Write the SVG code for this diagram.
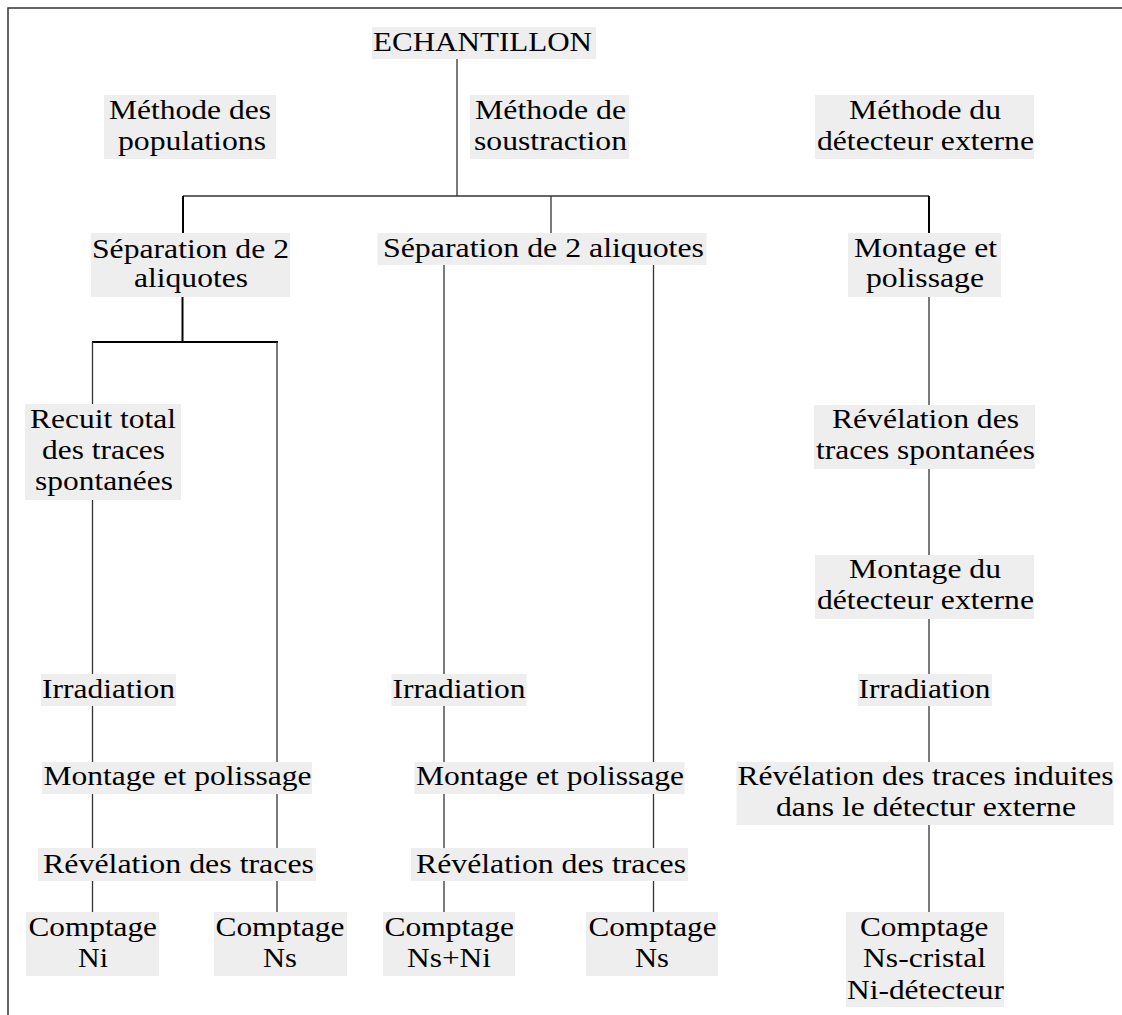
<svg xmlns="http://www.w3.org/2000/svg" width="1122" height="1015" viewBox="0 0 1122 1015">
<style>
.box{fill:#eeeeee;stroke:none}
.t text{font-family:"Liberation Serif","Times New Roman",serif;font-size:28px;fill:#000}
.ln{stroke:#333;stroke-width:1.3;fill:none}
.lb{stroke:#000;stroke-width:2;fill:none}
.frame{stroke:#333;stroke-width:1.5;fill:none}
</style>
<rect width="1122" height="1015" fill="#ffffff"/>
<path class="frame" d="M8,1016 V8 H1123"/>
<g id="connectors">
<line class="ln" x1="457" y1="59" x2="457" y2="196"/>
<line class="ln" x1="183" y1="196" x2="929" y2="196"/>
<line class="lb" x1="183" y1="196" x2="183" y2="233"/>
<line class="ln" x1="551" y1="196" x2="551" y2="233"/>
<line class="lb" x1="929" y1="196" x2="929" y2="233"/>
<line class="lb" x1="182.5" y1="297" x2="182.5" y2="342"/>
<line class="lb" x1="92" y1="342" x2="278" y2="342"/>
<line class="ln" x1="92.5" y1="342" x2="92.5" y2="404"/>
<line class="ln" x1="92.5" y1="500" x2="92.5" y2="674"/>
<line class="ln" x1="92.5" y1="706" x2="92.5" y2="762"/>
<line class="ln" x1="92.5" y1="794" x2="92.5" y2="848"/>
<line class="ln" x1="92.5" y1="881" x2="92.5" y2="912"/>
<line class="ln" x1="277" y1="342" x2="277" y2="762"/>
<line class="ln" x1="277" y1="794" x2="277" y2="848"/>
<line class="ln" x1="277" y1="881" x2="277" y2="912"/>
<line class="ln" x1="444" y1="265" x2="444" y2="674"/>
<line class="ln" x1="444" y1="706" x2="444" y2="762"/>
<line class="ln" x1="444" y1="794" x2="444" y2="848"/>
<line class="ln" x1="444" y1="881" x2="444" y2="912"/>
<line class="ln" x1="653.5" y1="265" x2="653.5" y2="762"/>
<line class="ln" x1="653.5" y1="794" x2="653.5" y2="848"/>
<line class="ln" x1="653.5" y1="881" x2="653.5" y2="912"/>
<line class="ln" x1="929" y1="297" x2="929" y2="405"/>
<line class="ln" x1="929" y1="469" x2="929" y2="555"/>
<line class="ln" x1="929" y1="619" x2="929" y2="674"/>
<line class="ln" x1="929" y1="706" x2="929" y2="762"/>
<line class="ln" x1="929" y1="825" x2="929" y2="912"/>
</g>
<g class="t">
<g id="n-echantillon">
<rect class="box" x="372" y="27" width="224" height="32"/>
<text x="373" y="51" textLength="219" lengthAdjust="spacingAndGlyphs">ECHANTILLON</text>
</g>
<g id="n-meth-pop">
<rect class="box" x="104" y="95" width="172" height="64"/>
<text x="109" y="119" textLength="162" lengthAdjust="spacingAndGlyphs">Méthode des</text>
<text x="118" y="150" textLength="148" lengthAdjust="spacingAndGlyphs">populations</text>
</g>
<g id="n-meth-sous">
<rect class="box" x="470" y="95" width="159" height="64"/>
<text x="475" y="119" textLength="151" lengthAdjust="spacingAndGlyphs">Méthode de</text>
<text x="474" y="150" textLength="153" lengthAdjust="spacingAndGlyphs">soustraction</text>
</g>
<g id="n-meth-det">
<rect class="box" x="815" y="95" width="219" height="64"/>
<text x="849" y="119" textLength="152" lengthAdjust="spacingAndGlyphs">Méthode du</text>
<text x="817" y="150" textLength="217" lengthAdjust="spacingAndGlyphs">détecteur externe</text>
</g>
<g id="n-sep-left">
<rect class="box" x="91" y="233" width="199" height="64"/>
<text x="92" y="257.5" textLength="197" lengthAdjust="spacingAndGlyphs">Séparation de 2</text>
<text x="134" y="287" textLength="114" lengthAdjust="spacingAndGlyphs">aliquotes</text>
</g>
<g id="n-sep-center">
<rect class="box" x="377.5" y="233" width="329" height="32"/>
<text x="383" y="257" textLength="321" lengthAdjust="spacingAndGlyphs">Séparation de 2 aliquotes</text>
</g>
<g id="n-mont-right">
<rect class="box" x="848" y="233" width="153" height="64"/>
<text x="854" y="257" textLength="143" lengthAdjust="spacingAndGlyphs">Montage et</text>
<text x="866" y="287" textLength="118" lengthAdjust="spacingAndGlyphs">polissage</text>
</g>
<g id="n-recuit">
<rect class="box" x="25" y="404" width="156" height="96"/>
<text x="30" y="427.5" textLength="146" lengthAdjust="spacingAndGlyphs">Recuit total</text>
<text x="42" y="459" textLength="123" lengthAdjust="spacingAndGlyphs">des traces</text>
<text x="35" y="490" textLength="138" lengthAdjust="spacingAndGlyphs">spontanées</text>
</g>
<g id="n-rev-spont">
<rect class="box" x="814" y="405" width="221" height="64"/>
<text x="832" y="427.5" textLength="187" lengthAdjust="spacingAndGlyphs">Révélation des</text>
<text x="816" y="458.5" textLength="219" lengthAdjust="spacingAndGlyphs">traces spontanées</text>
</g>
<g id="n-mont-det">
<rect class="box" x="815" y="555" width="219" height="64"/>
<text x="849" y="578" textLength="152" lengthAdjust="spacingAndGlyphs">Montage du</text>
<text x="817" y="609" textLength="217" lengthAdjust="spacingAndGlyphs">détecteur externe</text>
</g>
<g id="n-irr-left">
<rect class="box" x="41" y="674" width="135" height="32"/>
<text x="42" y="697.5" textLength="133" lengthAdjust="spacingAndGlyphs">Irradiation</text>
</g>
<g id="n-irr-center">
<rect class="box" x="391.5" y="674" width="135" height="32"/>
<text x="392.5" y="697.5" textLength="133" lengthAdjust="spacingAndGlyphs">Irradiation</text>
</g>
<g id="n-irr-right">
<rect class="box" x="858" y="674" width="134" height="32"/>
<text x="858.5" y="697.5" textLength="132" lengthAdjust="spacingAndGlyphs">Irradiation</text>
</g>
<g id="n-mont-left">
<rect class="box" x="42" y="762" width="270" height="32"/>
<text x="43.5" y="785" textLength="268" lengthAdjust="spacingAndGlyphs">Montage et polissage</text>
</g>
<g id="n-mont-center">
<rect class="box" x="414.5" y="762" width="270" height="32"/>
<text x="416" y="785" textLength="268" lengthAdjust="spacingAndGlyphs">Montage et polissage</text>
</g>
<g id="n-rev-induites">
<rect class="box" x="736.5" y="762" width="377" height="63"/>
<text x="737.5" y="785" textLength="376" lengthAdjust="spacingAndGlyphs">Révélation des traces induites</text>
<text x="776" y="816" textLength="300" lengthAdjust="spacingAndGlyphs">dans le détectur externe</text>
</g>
<g id="n-rev-left">
<rect class="box" x="38" y="848" width="278" height="33"/>
<text x="43" y="872.5" textLength="271" lengthAdjust="spacingAndGlyphs">Révélation des traces</text>
</g>
<g id="n-rev-center">
<rect class="box" x="411" y="848" width="277" height="33"/>
<text x="416" y="872.5" textLength="270" lengthAdjust="spacingAndGlyphs">Révélation des traces</text>
</g>
<g id="n-compt-ni">
<rect class="box" x="26" y="912" width="133" height="64"/>
<text x="28.5" y="936" textLength="128.5" lengthAdjust="spacingAndGlyphs">Comptage</text>
<text x="78" y="967" textLength="30" lengthAdjust="spacingAndGlyphs">Ni</text>
</g>
<g id="n-compt-ns-left">
<rect class="box" x="214" y="912" width="133" height="64"/>
<text x="215.5" y="936" textLength="129" lengthAdjust="spacingAndGlyphs">Comptage</text>
<text x="263" y="967" textLength="34" lengthAdjust="spacingAndGlyphs">Ns</text>
</g>
<g id="n-compt-nsni">
<rect class="box" x="383" y="912" width="132" height="64"/>
<text x="384.5" y="936" textLength="129.5" lengthAdjust="spacingAndGlyphs">Comptage</text>
<text x="407" y="967" textLength="84" lengthAdjust="spacingAndGlyphs">Ns+Ni</text>
</g>
<g id="n-compt-ns-center">
<rect class="box" x="586" y="912" width="132" height="64"/>
<text x="588.5" y="936" textLength="128" lengthAdjust="spacingAndGlyphs">Comptage</text>
<text x="635" y="967" textLength="34" lengthAdjust="spacingAndGlyphs">Ns</text>
</g>
<g id="n-compt-det">
<rect class="box" x="846" y="912" width="158" height="95"/>
<text x="860" y="936" textLength="128.5" lengthAdjust="spacingAndGlyphs">Comptage</text>
<text x="863" y="967" textLength="123" lengthAdjust="spacingAndGlyphs">Ns-cristal</text>
<text x="847" y="998.5" textLength="157" lengthAdjust="spacingAndGlyphs">Ni-détecteur</text>
</g>
</g>
</svg>
